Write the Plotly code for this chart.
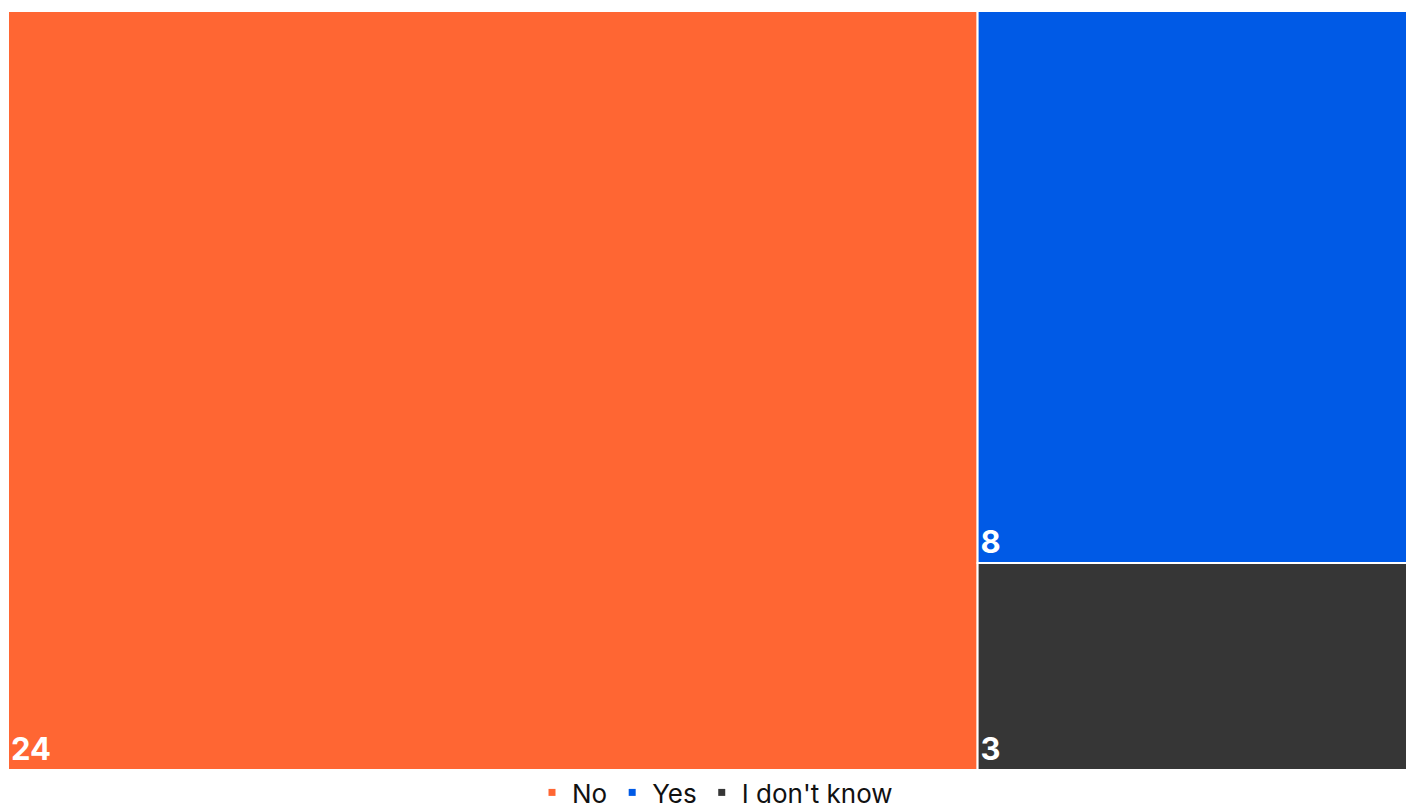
import plotly.graph_objects as go

labels = ["No", "Yes", "I don't know"]
values = [24, 8, 3]
colors = ["#FF6633", "#005AE6", "#363636"]

fig = go.Figure()
fig.add_trace(go.Treemap(
    labels=labels,
    parents=["", "", ""],
    values=values,
    marker=dict(colors=colors, line=dict(color="white", width=2),
                pad=dict(t=0, l=0, r=0, b=0)),
    textinfo="value",
    textposition="bottom left",
    textfont=dict(family="Inter", size=31, color="white", weight="bold"),
    tiling=dict(packing="squarify", pad=0),
    pathbar=dict(visible=False),
    sort=False,
    hoverinfo="skip",
    domain=dict(x=[0, 1], y=[46 / 805, 1]),
))

for lab, col in zip(labels, colors):
    fig.add_trace(go.Scatter(
        x=[None], y=[None], mode="markers", name=lab,
        marker=dict(symbol="square", size=7, color=col),
        showlegend=True,
    ))

fig.update_layout(
    width=1414, height=808,
    margin=dict(l=0, r=0, t=3, b=0, autoexpand=False),
    paper_bgcolor="white", plot_bgcolor="white",
    xaxis=dict(visible=False), yaxis=dict(visible=False),
    legend=dict(orientation="h", x=0.5, xanchor="center", y=0, yanchor="bottom",
                font=dict(family="Inter", size=26, color="#111111"),
                itemwidth=30, tracegroupgap=0, bgcolor="rgba(0,0,0,0)"),
    font=dict(family="Inter"),
)

fig.write_html("out.html")
